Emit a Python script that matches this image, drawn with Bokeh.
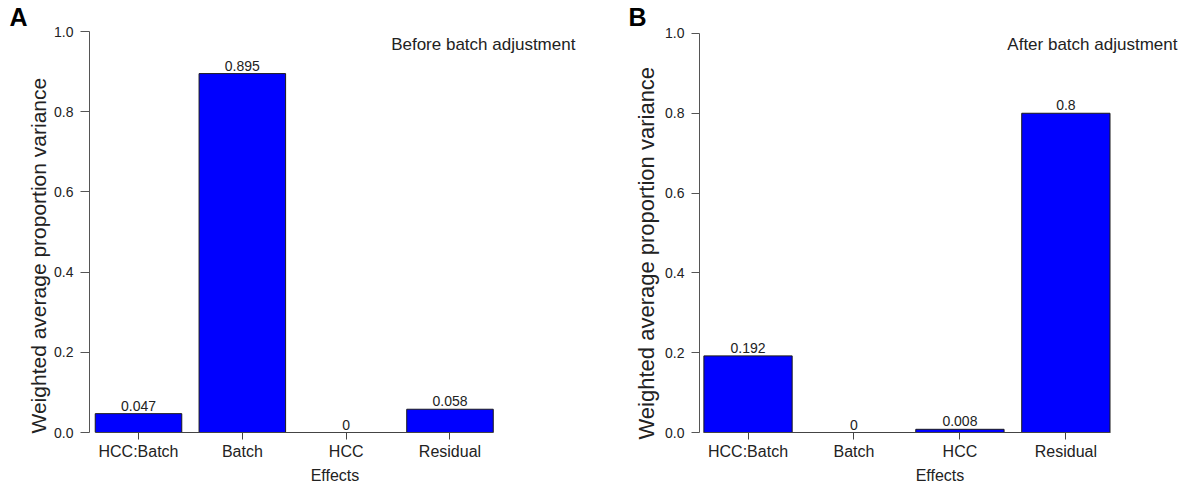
import math
from bokeh.plotting import figure
from bokeh.models import Range1d, FixedTicker, ColumnDataSource, Label, NumeralTickFormatter, Title
from bokeh.layouts import row
from bokeh.embed import file_html
from bokeh.resources import INLINE
from bokeh.core.properties import value

FONT = "Liberation Sans"

categories = ["HCC:Batch", "Batch", "HCC", "Residual"]
before_values = [0.047, 0.895, 0.0, 0.058]
after_values = [0.192, 0.0, 0.008, 0.8]
y_ticks = [0.0, 0.2, 0.4, 0.6, 0.8, 1.0]

panel_letters = ["A", "B"]
panel_titles = ["Before batch adjustment", "After batch adjustment"]
y_label = "Weighted average proportion variance"
x_label = "Effects"

BAR_WIDTH = 1 / 1.2
TOP = 30


def make_panel(values, letter, title, width, border_left, border_right, border_bottom,
               x_start, x_end, y_end, tick_out, letter_offset, title_pos, ylab_offset,
               ylab_standoff, ylab_size):
    positions = list(range(len(categories)))
    p = figure(width=width, height=493, output_backend="svg", toolbar_location=None,
               x_range=Range1d(x_start, x_end), y_range=Range1d(0, y_end),
               min_border_left=border_left, min_border_right=border_right,
               min_border_top=TOP, min_border_bottom=border_bottom)
    p.outline_line_color = None
    p.grid.visible = False
    p.background_fill_color = "white"
    p.border_fill_color = "white"

    src = ColumnDataSource(dict(x=positions, top=values,
                                label=[f"{v:g}" for v in values]))
    p.vbar(x="x", top="top", bottom=0, width=BAR_WIDTH, source=src,
           fill_color="#0000FF", line_color="#1a1a1a", line_width=1)
    p.text(x="x", y="top", text="label", source=src, text_align="center",
           text_baseline="alphabetic", y_offset=-8, text_font=value(FONT),
           text_font_size="14px", text_color="#222222")

    xa = p.xaxis[0]
    xa.ticker = FixedTicker(ticks=positions)
    xa.major_label_overrides = {i: c for i, c in enumerate(categories)}
    xa.bounds = (positions[0] - BAR_WIDTH / 2, positions[-1] + BAR_WIDTH / 2)
    xa.axis_line_color = "#444444"
    xa.major_tick_line_color = "#444444"
    xa.major_tick_out = 7
    xa.major_tick_in = 0
    xa.minor_tick_line_color = None
    xa.major_label_text_font = FONT
    xa.major_label_text_font_size = "16px"
    xa.major_label_text_color = "#222222"
    xa.major_label_standoff = 3
    xa.axis_label = x_label
    xa.axis_label_text_font = FONT
    xa.axis_label_text_font_style = "normal"
    xa.axis_label_text_font_size = "16px"
    xa.axis_label_text_color = "#222222"
    xa.axis_label_standoff = 4

    ya = p.yaxis[0]
    ya.ticker = FixedTicker(ticks=y_ticks)
    ya.formatter = NumeralTickFormatter(format="0.0")
    ya.bounds = (y_ticks[0], y_ticks[-1])
    ya.axis_line_color = "#555555"
    ya.major_tick_line_color = "#555555"
    ya.major_tick_out = tick_out
    ya.major_tick_in = 0
    ya.minor_tick_line_color = None
    ya.major_label_text_font = FONT
    ya.major_label_text_font_size = "14px"
    ya.major_label_text_color = "#222222"
    ya.major_label_standoff = 7

    p.add_layout(Title(text=y_label, align="left", offset=ylab_offset, standoff=ylab_standoff,
                       text_font=FONT, text_font_style="normal", text_font_size=ylab_size,
                       text_color="#222222"), "left")
    p.add_layout(Title(text=letter, align="left", offset=letter_offset, standoff=0,
                       text_font=FONT, text_font_style="bold", text_font_size="25px",
                       text_line_height=1.0, text_color="black"), "above")
    p.add_layout(Label(x=title_pos[0], y=title_pos[1], text=title,
                       text_font=FONT, text_font_size="17px", text_align="right",
                       text_baseline="alphabetic", text_color="#222222"))
    return p


pa = make_panel(before_values, panel_letters[0], panel_titles[0], 590, 89, 10, 61,
                -0.472, 4.257, (432 - TOP) / 401, 9,
                -80, (4.208, 0.9676), -1, 3, "21px")
pb = make_panel(after_values, panel_letters[1], panel_titles[1], 593, 109, 3, 54,
                -0.458, 4.082, (439 - TOP) / 406, 8,
                -71, (4.053, 0.973), -7, 7, "22px")

layout = row(pa, pb)
open("out.html", "w").write(file_html(layout, INLINE))
